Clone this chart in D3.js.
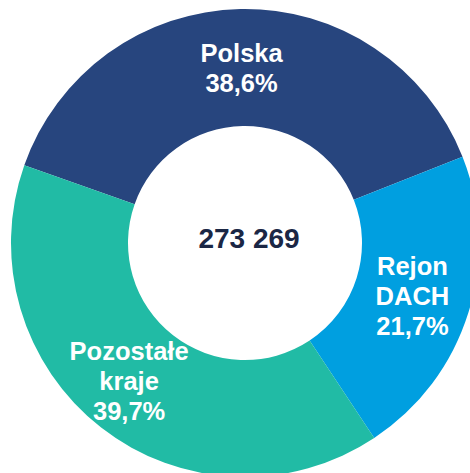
<!DOCTYPE html>
<html>
<head>
<meta charset="utf-8">
<script src="https://cdn.jsdelivr.net/npm/d3@7"></script>
<style>
  body { margin: 0; background: #fff; }
  svg { display: block; }
</style>
</head>
<body>
<div id="chart"></div>
<script>
// data
const regions = ["Polska", "Rejon DACH", "Pozostałe kraje"];
const shares = [38.6, 21.7, 39.7];
const labelLines = [["Polska", "38,6%"], ["Rejon", "DACH", "21,7%"], ["Pozostałe", "kraje", "39,7%"]];
const totalLabel = "273 269";

const colors = ["#27457e", "#009fe0", "#21bba5"];

const width = 470, height = 473;
const cx = 245, cy = 243;
const outerR = 234, innerR = 117;

const svg = d3.select("#chart").append("svg")
    .attr("width", width)
    .attr("height", height);

const g = svg.append("g")
    .attr("transform", `translate(${cx},${cy})`);

const pie = d3.pie()
    .sort(null)
    .value(d => d)
    .startAngle(-70.6 * Math.PI / 180)
    .endAngle((360 - 70.6) * Math.PI / 180);

const arc = d3.arc()
    .innerRadius(innerR)
    .outerRadius(outerR);

const arcs = pie(shares);

g.selectAll("path.slice")
    .data(arcs)
    .enter().append("path")
    .attr("class", "slice")
    .attr("d", arc)
    .attr("fill", (d, i) => colors[i]);

// slice labels
const lineH = 30;
g.selectAll("text.lbl")
    .data(arcs)
    .enter().append("text")
    .attr("class", "lbl")
    .attr("text-anchor", "middle")
    .attr("fill", "#fff")
    .attr("font-family", "'Liberation Sans', Arial, sans-serif")
    .attr("font-weight", "bold")
    .style("font-size", "25.5px")
    .each(function(d, i) {
      const c = arc.centroid(d);
      const lines = labelLines[i];
      const y0 = c[1] - (lines.length - 1) * lineH / 2 + 9;
      const t = d3.select(this);
      lines.forEach((ln, j) => {
        t.append("tspan")
          .attr("x", c[0] + (i === 2 ? -8 : 0))
          .attr("y", y0 + j * lineH)
          .text(ln);
      });
    });

// total in the middle
g.append("text")
    .attr("x", 4)
    .attr("y", 5)
    .attr("text-anchor", "middle")
    .attr("fill", "#1b2745")
    .attr("font-family", "'Liberation Sans', Arial, sans-serif")
    .attr("font-weight", "bold")
    .style("font-size", "28px")
    .text(totalLabel);
</script>
</body>
</html>
